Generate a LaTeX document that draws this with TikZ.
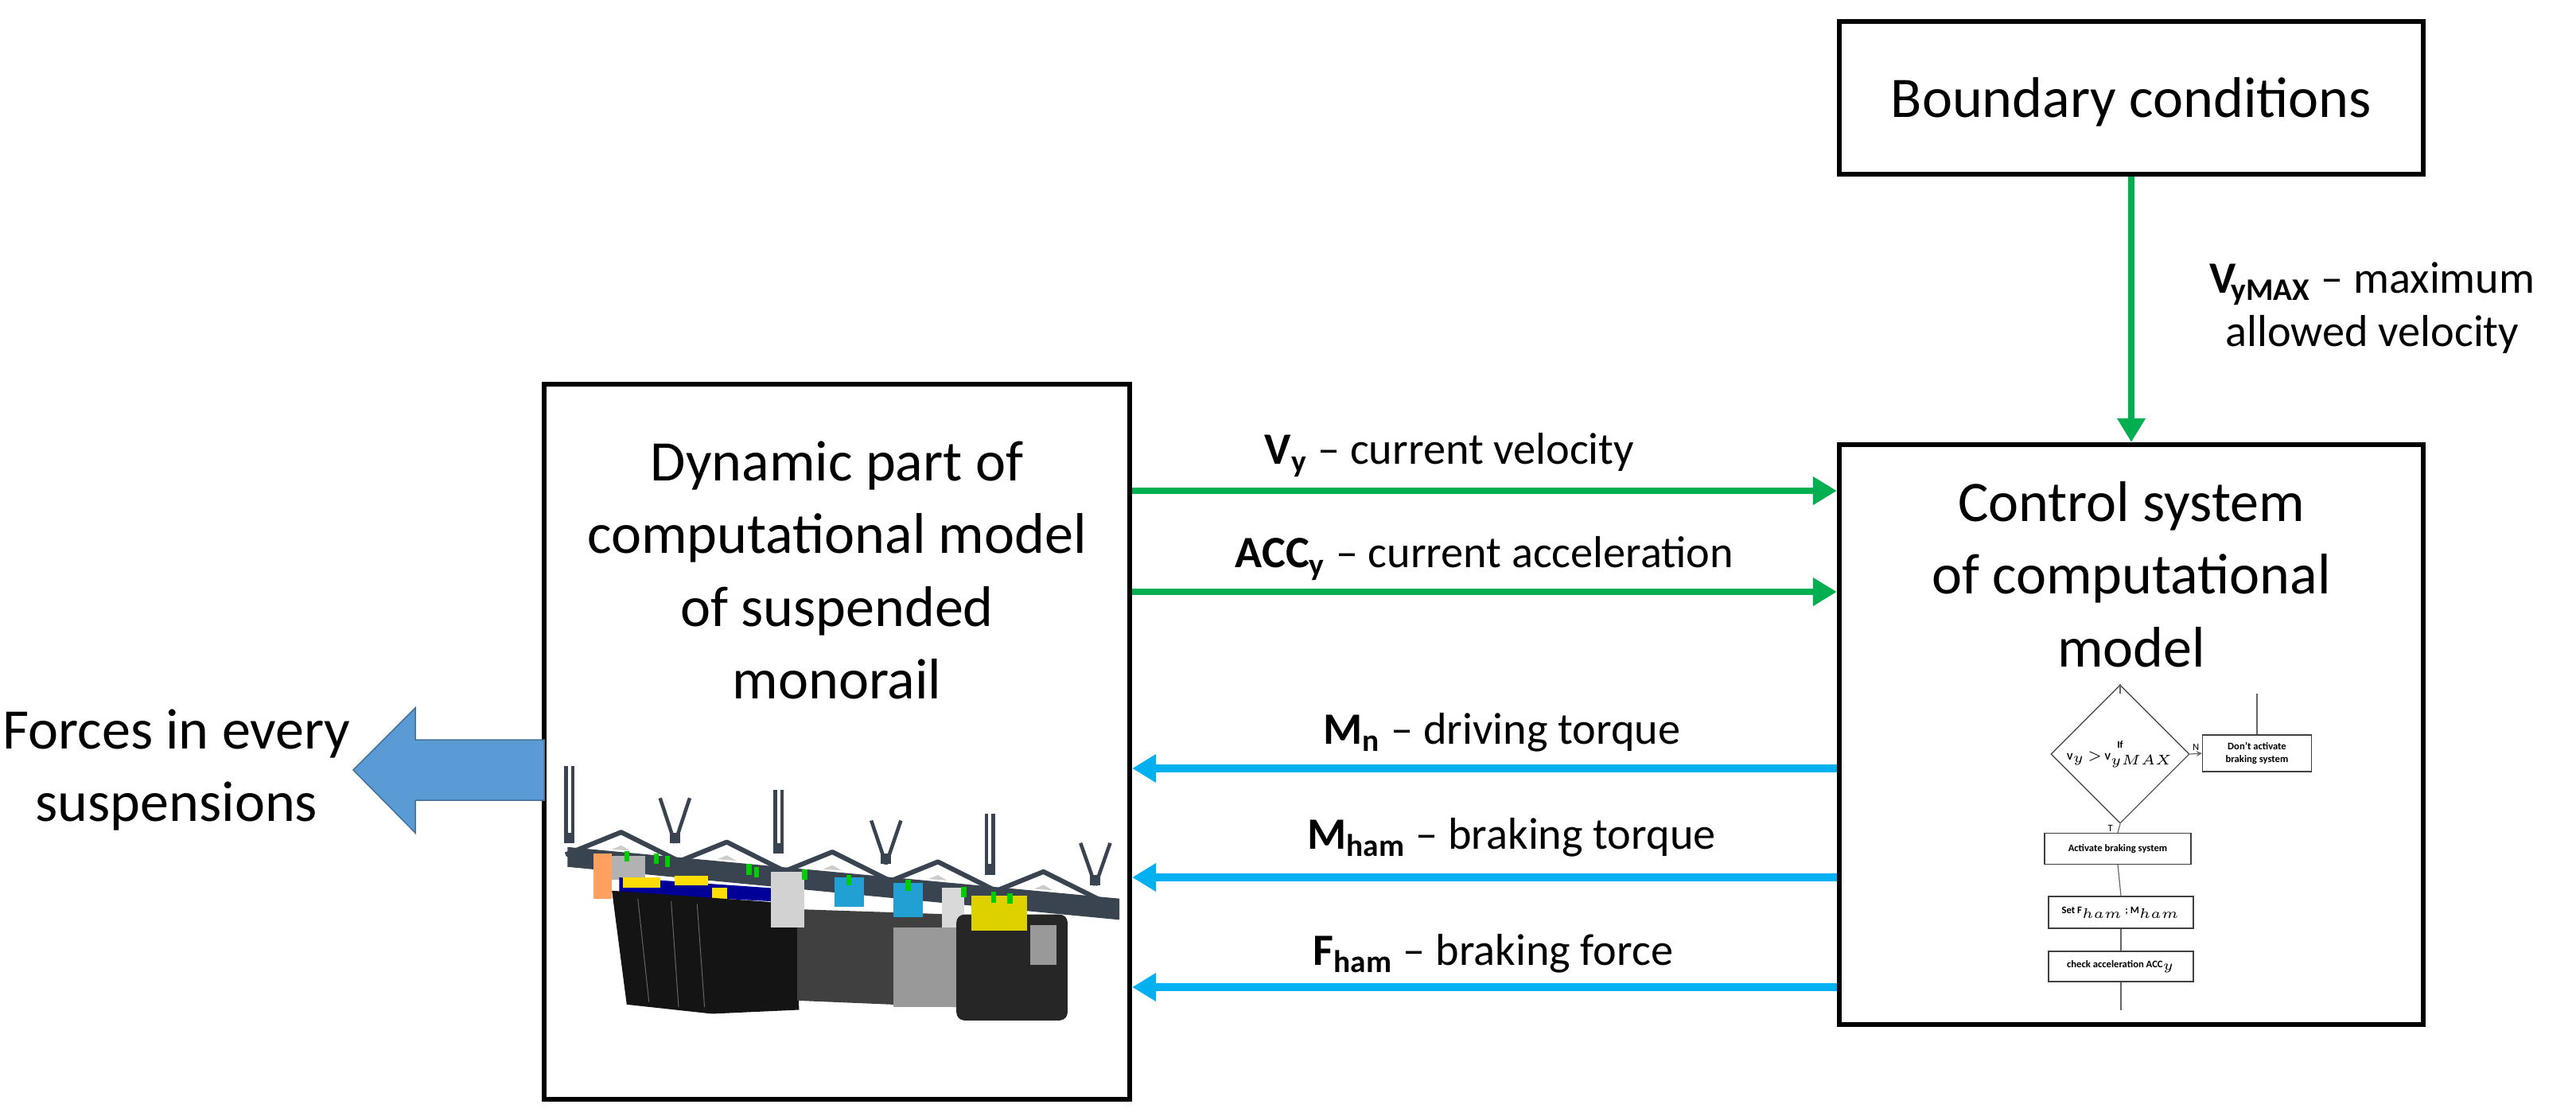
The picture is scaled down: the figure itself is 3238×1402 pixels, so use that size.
\documentclass[tikz,border=0pt]{standalone}
\usepackage{fontspec}
\setmainfont{Carlito}
\usetikzlibrary{arrows.meta,shapes.geometric,calc}
\definecolor{cgreen}{HTML}{00B050}
\definecolor{cblue}{HTML}{00B0F0}
\definecolor{bigblue}{HTML}{5B9BD5}
\definecolor{bigedge}{HTML}{41719C}
\definecolor{railc}{HTML}{3A4350}
\begin{document}
\begin{tikzpicture}[x=0.01cm,y=-0.01cm,
  box/.style={draw=black,line width=0.06cm,inner sep=0,fill=white},
  big/.style={font=\fontsize{20.5}{26}\selectfont,align=center,inner sep=0},
  lab/.style={font=\fontsize{16}{19}\selectfont,inner sep=0},
  garr/.style={draw=cgreen,line width=0.08cm,-{Triangle[length=0.3cm,width=0.34cm]}},
  barr/.style={draw=cblue,line width=0.1cm,-{Triangle[length=0.3cm,width=0.34cm]}},
  fc/.style={draw=black!75,line width=0.012cm,fill=white,font=\fontsize{3.6}{4.3}\selectfont\bfseries,align=center,inner sep=0.5pt},
  fl/.style={draw=black!60,line width=0.012cm},
  rod/.style={draw=railc,line width=0.045cm},
]
\path[use as bounding box] (0,0) rectangle (3238,1402);

% boxes
\node[box,minimum width=7.34cm,minimum height=1.92cm] (bc) at (2679,123) {};
\node[big] (bct) at (2679,128) {Boundary conditions};
\node[box,minimum width=7.34cm,minimum height=7.29cm] (ctrl) at (2679,923.5) {};
\node[big] (ctrlt) at (2679,722) {Control system\\of computational\\model};
\node[box,minimum width=7.36cm,minimum height=8.99cm] (dyn) at (1052,932.5) {};
\node[big] (dynt) at (1052,717) {Dynamic part of\\computational model\\of suspended\\monorail};

% big blue arrow
\coordinate (fa) at (dyn.west |- 0,968);
\filldraw[fill=bigblue,draw=bigedge,line width=0.015cm]
  (684,930) -- (522,930) -- (522,890) -- (444,968) -- (522,1047) -- (522,1006) -- (684,1006) -- cycle;
\node[big,align=center] (forces) at (222,968) {Forces in every\\suspensions};

% vertical green arrow
\draw[garr] (bc.south) -- (ctrl.north);
\node[lab,align=center] (vmax) at (2982,387) {$\mathbf{V}_{\!\mathbf{yMAX}}$ -- maximum\\allowed velocity};

% green arrows
\draw[garr] (dyn.east |- 0,617) -- (ctrl.west |- 0,617);
\draw[garr] (dyn.east |- 0,744) -- (ctrl.west |- 0,744);
\node[lab] (lv) at (1822,572) {$\mathbf{V}_{\mathbf{y}}$ -- current velocity};
\node[lab] (la) at (1866,702) {\textbf{ACC}$_{\mathbf{y}}$ -- current acceleration};

% blue arrows
\draw[barr] (ctrl.west |- 0,966) -- (dyn.east |- 0,966);
\draw[barr] (ctrl.west |- 0,1103) -- (dyn.east |- 0,1103);
\draw[barr] (ctrl.west |- 0,1241) -- (dyn.east |- 0,1241);
\node[lab] (lmn) at (1888,921) {$\mathbf{M}_{\mathbf{n}}$ -- driving torque};
\node[lab] (lmh) at (1900,1053) {$\mathbf{M}_{\mathbf{ham}}$ -- braking torque};
\node[lab] (lfh) at (1877,1199) {$\mathbf{F}_{\mathbf{ham}}$ -- braking force};

% flowchart
\node[fc,diamond,minimum width=1.18cm,minimum height=1.16cm] (dia) at (2665,948) {If\\V$_y$ $>$ V$_{yMAX}$};
\node[fc,minimum width=1.37cm,minimum height=0.46cm] (dont) at (2837,947) {Don't activate\\braking system};
\node[fc,minimum width=1.84cm,minimum height=0.39cm] (act) at (2662,1067) {Activate braking system};
\node[fc,minimum width=1.82cm,minimum height=0.40cm] (set) at (2666,1147) {Set F$_{ham}$ ; M$_{ham}$};
\node[fc,minimum width=1.82cm,minimum height=0.38cm] (chk) at (2666,1215) {check acceleration ACC$_y$};
\coordinate (ftop) at (2665,872);
\coordinate (dtop) at (2837,872);
\coordinate (fbot) at (2666,1270);
\draw[fl] (ftop) -- (dia.north);
\draw[fl] (dtop) -- (dont.north);
\draw[fl,-{Stealth[length=2pt,width=2pt]}] (dia.east) -- node[above,font=\fontsize{3.6}{4}\selectfont,inner sep=1pt]{N} (dont.west);
\draw[fl] (dia.south) -- node[left,font=\fontsize{3.6}{4}\selectfont,inner sep=2pt]{T} (act.north);
\draw[fl] (act.south) -- (set.north);
\draw[fl] (set.south) -- (chk.north);
\draw[fl] (chk.south) -- (fbot);

% monorail illustration
\begin{scope}[shift={(690,950)},x=0.004655cm,y=-0.003333cm]
  % hangers
  \foreach \hx/\ht/\hb in {55/40/330,620/130/370,1190/220/450}{
    \draw[rod] (\hx-9,\ht) -- (\hx-9,\hb);
    \draw[rod] (\hx+9,\ht) -- (\hx+9,\hb);
    \fill[railc] (\hx-14,\hb-40) rectangle (\hx+14,\hb);
  }
  \foreach \hx/\ht/\hb in {340/160/330,910/245/410,1475/330/490}{
    \draw[rod] (\hx-40,\ht) -- (\hx,\hb);
    \draw[rod] (\hx+40,\ht) -- (\hx,\hb);
    \fill[railc] (\hx-14,\hb-40) rectangle (\hx+14,\hb);
  }
  % truss
  \foreach \px in {195,480,765,1050,1335}{
    \pgfmathsetmacro{\ty}{345+(\px-50)*0.1309}
    \draw[railc,line width=0.06cm,line join=round] (\px-150,\ty+10) -- (\px,\ty-75) -- (\px+150,\ty+30);
    \fill[gray!40] (\px-25,\ty-10) -- (\px,\ty-25) -- (\px+25,\ty-5) -- cycle;
  }
  % beam
  \fill[railc] (50,345) -- (1540,540) -- (1540,620) -- (50,420) -- cycle;
  % front parts
  \fill[orange!50!pink] (120,370) rectangle (170,540);
  \fill[gray!60] (170,380) rectangle (260,470);
  \fill[blue!60!black] (190,460) -- (600,500) -- (600,550) -- (190,520) -- cycle;
  \fill[yellow!80!orange] (200,460) rectangle (300,500);
  \fill[yellow!80!orange] (340,455) rectangle (430,490);
  \fill[yellow!80!orange] (440,500) rectangle (480,540);
  \fill[black!92] (170,510) -- (670,560) -- (675,960) -- (440,975) -- (210,940) -- cycle;
  \draw[black!60,line width=0.01cm] (240,540) -- (270,930) (330,550) -- (350,950) (400,560) -- (420,950);
  \fill[black!75] (670,580) -- (1100,600) -- (1100,950) -- (670,925) -- cycle;
  \fill[black!40] (930,650) -- (1100,650) -- (1100,950) -- (930,950) -- cycle;
  \fill[gray!35] (600,440) rectangle (690,650);
  \fill[gray!30] (1060,500) rectangle (1120,650);
  \fill[cyan!70!teal] (770,460) rectangle (850,570);
  \fill[cyan!70!teal] (930,480) rectangle (1010,610);
  \fill[black!85,rounded corners=0.1cm] (1100,600) rectangle (1400,1000);
  \fill[black!40] (1300,640) rectangle (1370,790);
  \fill[yellow!70!olive] (1140,530) rectangle (1290,660);
  \foreach \gx/\gy in {210/380,290/390,320/400,540/430,560/440,690/450,810/470,970/490,1120/515,1200/535,1245/540}{
    \fill[green!80!black] (\gx-7,\gy-20) rectangle (\gx+7,\gy+20);
  }
\end{scope}
\end{tikzpicture}
\end{document}
